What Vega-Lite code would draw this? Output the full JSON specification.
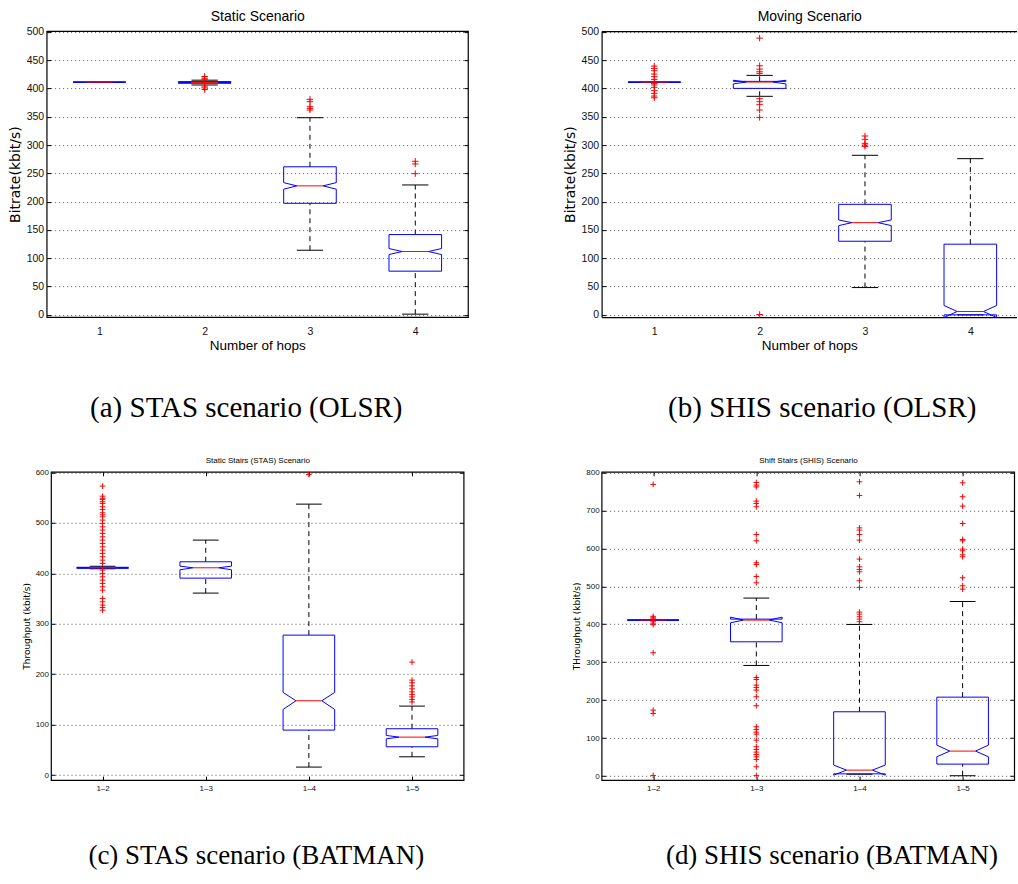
{
  "$schema": "https://vega.github.io/schema/vega-lite/v6.json",
  "background": "white",
  "autosize": {"type": "pad"},
  "padding": {"left": 7.3, "top": 8.1, "right": 0, "bottom": 0},
  "config": {
    "view": {"stroke": "#000", "strokeWidth": 1.2},
    "axis": {
      "domain": false, "grid": false, "tickColor": "#000", "tickSize": -4, "tickWidth": 1,
      "labelColor": "#111", "titleColor": "#000", "titleFontWeight": "normal",
      "gridColor": "#555", "gridDash": [1, 3], "gridWidth": 1,
      "labelFont": "Liberation Sans, Arial, sans-serif",
      "titleFont": "Liberation Sans, Arial, sans-serif",
      "domainColor": "#000", "domainWidth": 1.2
    },
    "title": {"font": "Liberation Serif, serif", "fontWeight": "normal", "color": "#000", "fontSize": 29}
  },
  "datasets": {
    "boxA": [
      {"hop": 1, "q1": 411, "nlo": 411, "med": 411, "nhi": 411, "q3": 411, "wlo": 411, "whi": 411},
      {"hop": 2, "q1": 409, "nlo": 410, "med": 410.5, "nhi": 411, "q3": 412, "wlo": 406, "whi": 414.5},
      {"hop": 3, "q1": 197, "nlo": 222, "med": 227.8, "nhi": 233.5, "q3": 261.5, "wlo": 114.1, "whi": 348.2},
      {"hop": 4, "q1": 77.1, "nlo": 106.5, "med": 111.8, "nhi": 117.1, "q3": 141.8, "wlo": 1.2, "whi": 229.4}
    ],
    "outA": [
      {"hop": 2, "v": 421}, {"hop": 2, "v": 418}, {"hop": 2, "v": 416}, {"hop": 2, "v": 404}, {"hop": 2, "v": 401}, {"hop": 2, "v": 398},
      {"hop": 3, "v": 380.6}, {"hop": 3, "v": 376.5}, {"hop": 3, "v": 367.6}, {"hop": 3, "v": 364.7}, {"hop": 3, "v": 361.8},
      {"hop": 4, "v": 271.2}, {"hop": 4, "v": 266.5}, {"hop": 4, "v": 249.4}
    ],
    "boxB": [
      {"hop": 1, "q1": 411, "nlo": 411, "med": 411, "nhi": 411, "q3": 411, "wlo": 411, "whi": 411},
      {"hop": 2, "q1": 400, "nlo": 408, "med": 411.2, "nhi": 414.4, "q3": 412.4, "wlo": 386, "whi": 423},
      {"hop": 3, "q1": 130, "nlo": 157.6, "med": 162.8, "nhi": 167.6, "q3": 195.2, "wlo": 48.2, "whi": 281.8},
      {"hop": 4, "q1": 0, "nlo": -4.7, "med": 5.9, "nhi": 16.5, "q3": 124.8, "wlo": 0, "whi": 275.9}
    ],
    "outB": [
      {"hop": 1, "v": 439.4}, {"hop": 1, "v": 435.3}, {"hop": 1, "v": 431.2}, {"hop": 1, "v": 425.3}, {"hop": 1, "v": 420.6},
      {"hop": 1, "v": 415.9}, {"hop": 1, "v": 408.8}, {"hop": 1, "v": 405.9}, {"hop": 1, "v": 401.8}, {"hop": 1, "v": 395.9},
      {"hop": 1, "v": 391.2}, {"hop": 1, "v": 386.5}, {"hop": 1, "v": 383.5},
      {"hop": 2, "v": 488.8}, {"hop": 2, "v": 440}, {"hop": 2, "v": 434}, {"hop": 2, "v": 429.4}, {"hop": 2, "v": 426.5},
      {"hop": 2, "v": 381.8}, {"hop": 2, "v": 376.5}, {"hop": 2, "v": 371.2}, {"hop": 2, "v": 361.8}, {"hop": 2, "v": 348.8}, {"hop": 2, "v": 0.6},
      {"hop": 3, "v": 315.9}, {"hop": 3, "v": 310}, {"hop": 3, "v": 302.9}, {"hop": 3, "v": 300}, {"hop": 3, "v": 297.5}
    ],
    "boxC": [
      {"pair": "1–2", "q1": 410, "nlo": 410.7, "med": 411, "nhi": 411.3, "q3": 412, "wlo": 409, "whi": 414},
      {"pair": "1–3", "q1": 390.5, "nlo": 407, "med": 411, "nhi": 414.3, "q3": 422.9, "wlo": 360.8, "whi": 465.9},
      {"pair": "1–4", "q1": 89.2, "nlo": 130.2, "med": 147.4, "nhi": 163.9, "q3": 277.5, "wlo": 15.9, "whi": 537.2},
      {"pair": "1–5", "q1": 56.2, "nlo": 71.9, "med": 75.3, "nhi": 78.6, "q3": 91.9, "wlo": 36.3, "whi": 136.8}
    ],
    "outC": [
      {"pair": "1–2", "v": 572.9}, {"pair": "1–2", "v": 553}, {"pair": "1–2", "v": 549}, {"pair": "1–2", "v": 546.5}, {"pair": "1–2", "v": 542},
      {"pair": "1–2", "v": 538.6}, {"pair": "1–2", "v": 532}, {"pair": "1–2", "v": 526.7}, {"pair": "1–2", "v": 520}, {"pair": "1–2", "v": 516},
      {"pair": "1–2", "v": 512}, {"pair": "1–2", "v": 505.5}, {"pair": "1–2", "v": 499}, {"pair": "1–2", "v": 492.2}, {"pair": "1–2", "v": 485.7},
      {"pair": "1–2", "v": 479.1}, {"pair": "1–2", "v": 472.4}, {"pair": "1–2", "v": 465.9}, {"pair": "1–2", "v": 459.3}, {"pair": "1–2", "v": 452.6},
      {"pair": "1–2", "v": 446}, {"pair": "1–2", "v": 439.5}, {"pair": "1–2", "v": 432.8}, {"pair": "1–2", "v": 426.2}, {"pair": "1–2", "v": 419.7},
      {"pair": "1–2", "v": 406.4}, {"pair": "1–2", "v": 399.8}, {"pair": "1–2", "v": 393.1}, {"pair": "1–2", "v": 386.6}, {"pair": "1–2", "v": 380},
      {"pair": "1–2", "v": 373.3}, {"pair": "1–2", "v": 366.7}, {"pair": "1–2", "v": 350.3}, {"pair": "1–2", "v": 343.6}, {"pair": "1–2", "v": 337},
      {"pair": "1–2", "v": 332.4}, {"pair": "1–2", "v": 327},
      {"pair": "1–4", "v": 596},
      {"pair": "1–5", "v": 224}, {"pair": "1–5", "v": 188.3}, {"pair": "1–5", "v": 183}, {"pair": "1–5", "v": 177}, {"pair": "1–5", "v": 171},
      {"pair": "1–5", "v": 165}, {"pair": "1–5", "v": 160}, {"pair": "1–5", "v": 155}, {"pair": "1–5", "v": 150}, {"pair": "1–5", "v": 145}
    ],
    "boxD": [
      {"pair": "1–2", "q1": 411, "nlo": 411, "med": 411, "nhi": 411, "q3": 411, "wlo": 411, "whi": 411},
      {"pair": "1–3", "q1": 353.8, "nlo": 404, "med": 411, "nhi": 418.9, "q3": 413.6, "wlo": 291.5, "whi": 469},
      {"pair": "1–4", "q1": 6, "nlo": 2.6, "med": 15.8, "nhi": 29, "q3": 169.5, "wlo": 5, "whi": 399.5},
      {"pair": "1–5", "q1": 31.6, "nlo": 50.9, "med": 65.9, "nhi": 81.7, "q3": 208, "wlo": 1, "whi": 460}
    ],
    "outD": [
      {"pair": "1–2", "v": 768.4}, {"pair": "1–2", "v": 421}, {"pair": "1–2", "v": 417}, {"pair": "1–2", "v": 414}, {"pair": "1–2", "v": 408},
      {"pair": "1–2", "v": 403}, {"pair": "1–2", "v": 399}, {"pair": "1–2", "v": 324.9}, {"pair": "1–2", "v": 173.9}, {"pair": "1–2", "v": 165}, {"pair": "1–2", "v": 1.8},
      {"pair": "1–3", "v": 773.6}, {"pair": "1–3", "v": 766.6}, {"pair": "1–3", "v": 762}, {"pair": "1–3", "v": 724.5}, {"pair": "1–3", "v": 718.3},
      {"pair": "1–3", "v": 709.5}, {"pair": "1–3", "v": 636.6}, {"pair": "1–3", "v": 620}, {"pair": "1–3", "v": 562}, {"pair": "1–3", "v": 557.6},
      {"pair": "1–3", "v": 526}, {"pair": "1–3", "v": 509.3}, {"pair": "1–3", "v": 259.9}, {"pair": "1–3", "v": 254.6}, {"pair": "1–3", "v": 239.7},
      {"pair": "1–3", "v": 233.6}, {"pair": "1–3", "v": 226.6}, {"pair": "1–3", "v": 209}, {"pair": "1–3", "v": 185.3}, {"pair": "1–3", "v": 130},
      {"pair": "1–3", "v": 123}, {"pair": "1–3", "v": 115.9}, {"pair": "1–3", "v": 110.6}, {"pair": "1–3", "v": 94.8}, {"pair": "1–3", "v": 77.3},
      {"pair": "1–3", "v": 70.2}, {"pair": "1–3", "v": 63.2}, {"pair": "1–3", "v": 57}, {"pair": "1–3", "v": 50.9}, {"pair": "1–3", "v": 43.9},
      {"pair": "1–3", "v": 24.6}, {"pair": "1–3", "v": 1.8},
      {"pair": "1–4", "v": 775.4}, {"pair": "1–4", "v": 739.4}, {"pair": "1–4", "v": 654}, {"pair": "1–4", "v": 648}, {"pair": "1–4", "v": 636.6},
      {"pair": "1–4", "v": 621.7}, {"pair": "1–4", "v": 571.7}, {"pair": "1–4", "v": 551.5}, {"pair": "1–4", "v": 544.4}, {"pair": "1–4", "v": 538.3},
      {"pair": "1–4", "v": 514.6}, {"pair": "1–4", "v": 497}, {"pair": "1–4", "v": 432}, {"pair": "1–4", "v": 426.8}, {"pair": "1–4", "v": 419.7},
      {"pair": "1–4", "v": 413.6}, {"pair": "1–4", "v": 406.6},
      {"pair": "1–5", "v": 772.7}, {"pair": "1–5", "v": 735.9}, {"pair": "1–5", "v": 711.3}, {"pair": "1–5", "v": 665.6}, {"pair": "1–5", "v": 623.5},
      {"pair": "1–5", "v": 620}, {"pair": "1–5", "v": 598}, {"pair": "1–5", "v": 593.6}, {"pair": "1–5", "v": 583}, {"pair": "1–5", "v": 577.8},
      {"pair": "1–5", "v": 522.5}, {"pair": "1–5", "v": 501.4}, {"pair": "1–5", "v": 492.6}
    ]
  },
  "concat": [
    {
      "width": 421.3, "height": 286,
      "title": {"text": "(a) STAS scenario (OLSR)", "orient": "bottom", "frame": "group", "anchor": "middle", "dx": -11, "offset": 42},
      "data": {"name": "boxA"},
      "encoding": {"x": {"field": "hop", "type": "quantitative", "scale": {"domain": [0.5, 4.5]}, "axis": null}},
      "layer": [
        {"mark": {"type": "rule", "stroke": "#000", "strokeDash": [5, 4]}, "encoding": {"y": {"field": "q3", "type": "quantitative", "scale": {"domain": [-4, 501.2]}, "axis": null}, "y2": {"field": "whi"}}},
        {"mark": {"type": "rule", "stroke": "#000", "strokeDash": [5, 4]}, "encoding": {"y": {"field": "wlo", "type": "quantitative", "scale": {"domain": [-4, 501.2]}, "axis": null}, "y2": {"field": "q1"}}},
        {"mark": {"type": "rule", "stroke": "#000", "xOffset": -13.15, "x2Offset": 13.15}, "encoding": {"x2": {"field": "hop"}, "y": {"field": "whi", "type": "quantitative", "scale": {"domain": [-4, 501.2]}, "axis": null}}},
        {"mark": {"type": "rule", "stroke": "#000", "xOffset": -13.15, "x2Offset": 13.15}, "encoding": {"x2": {"field": "hop"}, "y": {"field": "wlo", "type": "quantitative", "scale": {"domain": [-4, 501.2]}, "axis": null}}},
        {"mark": {"type": "rule", "stroke": "#00f", "xOffset": -26.3, "x2Offset": 26.3}, "encoding": {"x2": {"field": "hop"}, "y": {"field": "q3", "type": "quantitative", "scale": {"domain": [-4, 501.2]}, "axis": null}}},
        {"mark": {"type": "rule", "stroke": "#00f", "xOffset": -26.3, "x2Offset": 26.3}, "encoding": {"x2": {"field": "hop"}, "y": {"field": "q1", "type": "quantitative", "scale": {"domain": [-4, 501.2]}, "axis": null}}},
        {"mark": {"type": "rule", "stroke": "#00f", "xOffset": -26.3}, "encoding": {"y": {"field": "q1", "type": "quantitative", "scale": {"domain": [-4, 501.2]}, "axis": null}, "y2": {"field": "nlo"}}},
        {"mark": {"type": "rule", "stroke": "#00f", "xOffset": -26.3}, "encoding": {"y": {"field": "nhi", "type": "quantitative", "scale": {"domain": [-4, 501.2]}, "axis": null}, "y2": {"field": "q3"}}},
        {"mark": {"type": "rule", "stroke": "#00f", "xOffset": 26.3}, "encoding": {"y": {"field": "q1", "type": "quantitative", "scale": {"domain": [-4, 501.2]}, "axis": null}, "y2": {"field": "nlo"}}},
        {"mark": {"type": "rule", "stroke": "#00f", "xOffset": 26.3}, "encoding": {"y": {"field": "nhi", "type": "quantitative", "scale": {"domain": [-4, 501.2]}, "axis": null}, "y2": {"field": "q3"}}},
        {"mark": {"type": "rule", "stroke": "#00f", "xOffset": -26.3, "x2Offset": -13.15}, "encoding": {"x2": {"field": "hop"}, "y": {"field": "nlo", "type": "quantitative", "scale": {"domain": [-4, 501.2]}, "axis": null}, "y2": {"field": "med"}}},
        {"mark": {"type": "rule", "stroke": "#00f", "xOffset": -26.3, "x2Offset": -13.15}, "encoding": {"x2": {"field": "hop"}, "y": {"field": "nhi", "type": "quantitative", "scale": {"domain": [-4, 501.2]}, "axis": null}, "y2": {"field": "med"}}},
        {"mark": {"type": "rule", "stroke": "#00f", "xOffset": 26.3, "x2Offset": 13.15}, "encoding": {"x2": {"field": "hop"}, "y": {"field": "nlo", "type": "quantitative", "scale": {"domain": [-4, 501.2]}, "axis": null}, "y2": {"field": "med"}}},
        {"mark": {"type": "rule", "stroke": "#00f", "xOffset": 26.3, "x2Offset": 13.15}, "encoding": {"x2": {"field": "hop"}, "y": {"field": "nhi", "type": "quantitative", "scale": {"domain": [-4, 501.2]}, "axis": null}, "y2": {"field": "med"}}},
        {"mark": {"type": "rule", "stroke": "#f00", "xOffset": -13.15, "x2Offset": 13.15},
         "encoding": {
           "x": {"field": "hop", "type": "quantitative", "scale": {"domain": [0.5, 4.5]},
             "axis": {"orient": "top", "title": "Static Scenario", "values": [1, 2, 3, 4], "labels": false, "ticks": false, "titleFontSize": 14, "titlePadding": 8}},
           "x2": {"field": "hop"},
           "y": {"field": "med", "type": "quantitative", "scale": {"domain": [-4, 501.2]},
             "axis": {"orient": "right", "title": null, "values": [0, 50, 100, 150, 200, 250, 300, 350, 400, 450, 500], "labels": false}}}},
        {"data": {"name": "outA"},
         "mark": {"type": "point", "shape": "M-1,0L1,0M0,-1L0,1", "size": 42, "filled": false, "stroke": "#f00", "strokeWidth": 1, "opacity": 1},
         "encoding": {
           "x": {"field": "hop", "type": "quantitative", "scale": {"domain": [0.5, 4.5]},
             "axis": {"orient": "bottom", "title": "Number of hops", "values": [1, 2, 3, 4], "format": "d", "ticks": false, "labelFontSize": 10.5, "labelPadding": 9, "titleFontSize": 13.5, "titlePadding": 2}},
           "y": {"field": "v", "type": "quantitative", "scale": {"domain": [-4, 501.2]},
             "axis": {"orient": "left", "title": "Bitrate(kbit/s)", "values": [0, 50, 100, 150, 200, 250, 300, 350, 400, 450, 500], "grid": true, "labelFontSize": 10.5, "labelPadding": 7, "titleFont": "DejaVu Sans", "titleFontSize": 14, "titlePadding": 4}}}}
      ],
      "resolve": {"axis": {"x": "independent", "y": "independent"}}
    },
    {
      "width": 415.3, "height": 286,
      "view": {"stroke": null},
      "title": {"text": "(b) SHIS scenario (OLSR)", "orient": "bottom", "frame": "group", "anchor": "middle", "dx": 13, "offset": 42},
      "data": {"name": "boxB"},
      "encoding": {"x": {"field": "hop", "type": "quantitative", "scale": {"domain": [0.5, 4.442]}, "axis": null}},
      "layer": [
        {"mark": {"type": "rule", "stroke": "#000", "strokeDash": [5, 4]}, "encoding": {"y": {"field": "q3", "type": "quantitative", "scale": {"domain": [-4, 501.2]}, "axis": null}, "y2": {"field": "whi"}}},
        {"mark": {"type": "rule", "stroke": "#000", "strokeDash": [5, 4]}, "encoding": {"y": {"field": "wlo", "type": "quantitative", "scale": {"domain": [-4, 501.2]}, "axis": null}, "y2": {"field": "q1"}}},
        {"mark": {"type": "rule", "stroke": "#000", "xOffset": -13.15, "x2Offset": 13.15}, "encoding": {"x2": {"field": "hop"}, "y": {"field": "whi", "type": "quantitative", "scale": {"domain": [-4, 501.2]}, "axis": null}}},
        {"mark": {"type": "rule", "stroke": "#000", "xOffset": -13.15, "x2Offset": 13.15}, "encoding": {"x2": {"field": "hop"}, "y": {"field": "wlo", "type": "quantitative", "scale": {"domain": [-4, 501.2]}, "axis": null}}},
        {"mark": {"type": "rule", "stroke": "#00f", "xOffset": -26.3, "x2Offset": 26.3}, "encoding": {"x2": {"field": "hop"}, "y": {"field": "q3", "type": "quantitative", "scale": {"domain": [-4, 501.2]}, "axis": null}}},
        {"mark": {"type": "rule", "stroke": "#00f", "xOffset": -26.3, "x2Offset": 26.3}, "encoding": {"x2": {"field": "hop"}, "y": {"field": "q1", "type": "quantitative", "scale": {"domain": [-4, 501.2]}, "axis": null}}},
        {"mark": {"type": "rule", "stroke": "#00f", "xOffset": -26.3}, "encoding": {"y": {"field": "q1", "type": "quantitative", "scale": {"domain": [-4, 501.2]}, "axis": null}, "y2": {"field": "nlo"}}},
        {"mark": {"type": "rule", "stroke": "#00f", "xOffset": -26.3}, "encoding": {"y": {"field": "nhi", "type": "quantitative", "scale": {"domain": [-4, 501.2]}, "axis": null}, "y2": {"field": "q3"}}},
        {"mark": {"type": "rule", "stroke": "#00f", "xOffset": 26.3}, "encoding": {"y": {"field": "q1", "type": "quantitative", "scale": {"domain": [-4, 501.2]}, "axis": null}, "y2": {"field": "nlo"}}},
        {"mark": {"type": "rule", "stroke": "#00f", "xOffset": 26.3}, "encoding": {"y": {"field": "nhi", "type": "quantitative", "scale": {"domain": [-4, 501.2]}, "axis": null}, "y2": {"field": "q3"}}},
        {"mark": {"type": "rule", "stroke": "#00f", "xOffset": -26.3, "x2Offset": -13.15}, "encoding": {"x2": {"field": "hop"}, "y": {"field": "nlo", "type": "quantitative", "scale": {"domain": [-4, 501.2]}, "axis": null}, "y2": {"field": "med"}}},
        {"mark": {"type": "rule", "stroke": "#00f", "xOffset": -26.3, "x2Offset": -13.15}, "encoding": {"x2": {"field": "hop"}, "y": {"field": "nhi", "type": "quantitative", "scale": {"domain": [-4, 501.2]}, "axis": null}, "y2": {"field": "med"}}},
        {"mark": {"type": "rule", "stroke": "#00f", "xOffset": 26.3, "x2Offset": 13.15}, "encoding": {"x2": {"field": "hop"}, "y": {"field": "nlo", "type": "quantitative", "scale": {"domain": [-4, 501.2]}, "axis": null}, "y2": {"field": "med"}}},
        {"mark": {"type": "rule", "stroke": "#00f", "xOffset": 26.3, "x2Offset": 13.15}, "encoding": {"x2": {"field": "hop"}, "y": {"field": "nhi", "type": "quantitative", "scale": {"domain": [-4, 501.2]}, "axis": null}, "y2": {"field": "med"}}},
        {"mark": {"type": "rule", "stroke": "#f00", "xOffset": -13.15, "x2Offset": 13.15},
         "encoding": {
           "x": {"field": "hop", "type": "quantitative", "scale": {"domain": [0.5, 4.442]},
             "axis": {"orient": "top", "title": "Moving Scenario", "values": [1, 2, 3, 4], "labels": false, "ticks": false, "domain": true, "titleFontSize": 14, "titlePadding": 8}},
           "x2": {"field": "hop"},
           "y": {"field": "med", "type": "quantitative", "scale": {"domain": [-4, 501.2]}, "axis": null}}},
        {"data": {"name": "outB"},
         "mark": {"type": "point", "shape": "M-1,0L1,0M0,-1L0,1", "size": 42, "filled": false, "stroke": "#f00", "strokeWidth": 1, "opacity": 1},
         "encoding": {
           "x": {"field": "hop", "type": "quantitative", "scale": {"domain": [0.5, 4.442]},
             "axis": {"orient": "bottom", "title": "Number of hops", "values": [1, 2, 3, 4], "format": "d", "ticks": false, "domain": true, "labelFontSize": 10.5, "labelPadding": 9, "titleFontSize": 13.5, "titlePadding": 2}},
           "y": {"field": "v", "type": "quantitative", "scale": {"domain": [-4, 501.2]},
             "axis": {"orient": "left", "title": "Bitrate(kbit/s)", "values": [0, 50, 100, 150, 200, 250, 300, 350, 400, 450, 500], "grid": true, "domain": true, "labelFontSize": 10.5, "labelPadding": 7, "titleFont": "DejaVu Sans", "titleFontSize": 14, "titlePadding": 4}}}}
      ],
      "resolve": {"axis": {"x": "independent", "y": "independent"}}
    },
    {
      "width": 412.6, "height": 308.3,
      "title": {"text": "(c) STAS scenario (BATMAN)", "orient": "bottom", "frame": "group", "anchor": "middle", "dx": -1, "offset": 50, "fontSize": 27},
      "data": {"name": "boxC"},
      "encoding": {"x": {"field": "pair", "type": "nominal", "sort": null, "scale": {"type": "point", "padding": 0.5, "domain": ["1–2", "1–3", "1–4", "1–5"]}, "axis": null}},
      "layer": [
        {"mark": {"type": "rule", "stroke": "#000", "strokeDash": [5, 4]}, "encoding": {"y": {"field": "q3", "type": "quantitative", "scale": {"domain": [-9.9, 601.3]}, "axis": null}, "y2": {"field": "whi"}}},
        {"mark": {"type": "rule", "stroke": "#000", "strokeDash": [5, 4]}, "encoding": {"y": {"field": "wlo", "type": "quantitative", "scale": {"domain": [-9.9, 601.3]}, "axis": null}, "y2": {"field": "q1"}}},
        {"mark": {"type": "rule", "stroke": "#000", "xOffset": -12.9, "x2Offset": 12.9}, "encoding": {"x2": {"field": "pair"}, "y": {"field": "whi", "type": "quantitative", "scale": {"domain": [-9.9, 601.3]}, "axis": null}}},
        {"mark": {"type": "rule", "stroke": "#000", "xOffset": -12.9, "x2Offset": 12.9}, "encoding": {"x2": {"field": "pair"}, "y": {"field": "wlo", "type": "quantitative", "scale": {"domain": [-9.9, 601.3]}, "axis": null}}},
        {"mark": {"type": "rule", "stroke": "#00f", "xOffset": -25.8, "x2Offset": 25.8}, "encoding": {"x2": {"field": "pair"}, "y": {"field": "q3", "type": "quantitative", "scale": {"domain": [-9.9, 601.3]}, "axis": null}}},
        {"mark": {"type": "rule", "stroke": "#00f", "xOffset": -25.8, "x2Offset": 25.8}, "encoding": {"x2": {"field": "pair"}, "y": {"field": "q1", "type": "quantitative", "scale": {"domain": [-9.9, 601.3]}, "axis": null}}},
        {"mark": {"type": "rule", "stroke": "#00f", "xOffset": -25.8}, "encoding": {"y": {"field": "q1", "type": "quantitative", "scale": {"domain": [-9.9, 601.3]}, "axis": null}, "y2": {"field": "nlo"}}},
        {"mark": {"type": "rule", "stroke": "#00f", "xOffset": -25.8}, "encoding": {"y": {"field": "nhi", "type": "quantitative", "scale": {"domain": [-9.9, 601.3]}, "axis": null}, "y2": {"field": "q3"}}},
        {"mark": {"type": "rule", "stroke": "#00f", "xOffset": 25.8}, "encoding": {"y": {"field": "q1", "type": "quantitative", "scale": {"domain": [-9.9, 601.3]}, "axis": null}, "y2": {"field": "nlo"}}},
        {"mark": {"type": "rule", "stroke": "#00f", "xOffset": 25.8}, "encoding": {"y": {"field": "nhi", "type": "quantitative", "scale": {"domain": [-9.9, 601.3]}, "axis": null}, "y2": {"field": "q3"}}},
        {"mark": {"type": "rule", "stroke": "#00f", "xOffset": -25.8, "x2Offset": -12.9}, "encoding": {"x2": {"field": "pair"}, "y": {"field": "nlo", "type": "quantitative", "scale": {"domain": [-9.9, 601.3]}, "axis": null}, "y2": {"field": "med"}}},
        {"mark": {"type": "rule", "stroke": "#00f", "xOffset": -25.8, "x2Offset": -12.9}, "encoding": {"x2": {"field": "pair"}, "y": {"field": "nhi", "type": "quantitative", "scale": {"domain": [-9.9, 601.3]}, "axis": null}, "y2": {"field": "med"}}},
        {"mark": {"type": "rule", "stroke": "#00f", "xOffset": 25.8, "x2Offset": 12.9}, "encoding": {"x2": {"field": "pair"}, "y": {"field": "nlo", "type": "quantitative", "scale": {"domain": [-9.9, 601.3]}, "axis": null}, "y2": {"field": "med"}}},
        {"mark": {"type": "rule", "stroke": "#00f", "xOffset": 25.8, "x2Offset": 12.9}, "encoding": {"x2": {"field": "pair"}, "y": {"field": "nhi", "type": "quantitative", "scale": {"domain": [-9.9, 601.3]}, "axis": null}, "y2": {"field": "med"}}},
        {"mark": {"type": "rule", "stroke": "#f00", "xOffset": -12.9, "x2Offset": 12.9},
         "encoding": {
           "x": {"field": "pair", "type": "nominal", "sort": null, "scale": {"type": "point", "padding": 0.5, "domain": ["1–2", "1–3", "1–4", "1–5"]},
             "axis": {"orient": "top", "title": "Static Stairs (STAS) Scenario", "labels": false, "titleFontSize": 8, "titlePadding": 7}},
           "x2": {"field": "pair"},
           "y": {"field": "med", "type": "quantitative", "scale": {"domain": [-9.9, 601.3]},
             "axis": {"orient": "right", "title": null, "values": [0, 100, 200, 300, 400, 500, 600], "labels": false}}}},
        {"data": {"name": "outC"},
         "mark": {"type": "point", "shape": "M-1,0L1,0M0,-1L0,1", "size": 32, "filled": false, "stroke": "#f00", "strokeWidth": 1, "opacity": 1},
         "encoding": {
           "x": {"field": "pair", "type": "nominal", "sort": null, "scale": {"type": "point", "padding": 0.5, "domain": ["1–2", "1–3", "1–4", "1–5"]},
             "axis": {"orient": "bottom", "title": null, "labelAngle": 0, "labelFontSize": 8, "labelPadding": 8.5}},
           "y": {"field": "v", "type": "quantitative", "scale": {"domain": [-9.9, 601.3]},
             "axis": {"orient": "left", "title": "Throughput (kbit/s)", "values": [0, 100, 200, 300, 400, 500, 600], "grid": true, "labelFontSize": 8, "labelPadding": 6.5, "titleFont": "DejaVu Sans", "titleFontSize": 9, "titlePadding": 4}}}}
      ],
      "resolve": {"axis": {"x": "independent", "y": "independent"}}
    },
    {
      "width": 412.6, "height": 308.3,
      "title": {"text": "(d) SHIS scenario (BATMAN)", "orient": "bottom", "frame": "group", "anchor": "middle", "dx": 24, "offset": 50, "fontSize": 27},
      "data": {"name": "boxD"},
      "encoding": {"x": {"field": "pair", "type": "nominal", "sort": null, "scale": {"type": "point", "padding": 0.5, "domain": ["1–2", "1–3", "1–4", "1–5"]}, "axis": null}},
      "layer": [
        {"mark": {"type": "rule", "stroke": "#000", "strokeDash": [5, 4]}, "encoding": {"y": {"field": "q3", "type": "quantitative", "scale": {"domain": [-10.5, 801.7]}, "axis": null}, "y2": {"field": "whi"}}},
        {"mark": {"type": "rule", "stroke": "#000", "strokeDash": [5, 4]}, "encoding": {"y": {"field": "wlo", "type": "quantitative", "scale": {"domain": [-10.5, 801.7]}, "axis": null}, "y2": {"field": "q1"}}},
        {"mark": {"type": "rule", "stroke": "#000", "xOffset": -12.9, "x2Offset": 12.9}, "encoding": {"x2": {"field": "pair"}, "y": {"field": "whi", "type": "quantitative", "scale": {"domain": [-10.5, 801.7]}, "axis": null}}},
        {"mark": {"type": "rule", "stroke": "#000", "xOffset": -12.9, "x2Offset": 12.9}, "encoding": {"x2": {"field": "pair"}, "y": {"field": "wlo", "type": "quantitative", "scale": {"domain": [-10.5, 801.7]}, "axis": null}}},
        {"mark": {"type": "rule", "stroke": "#00f", "xOffset": -25.8, "x2Offset": 25.8}, "encoding": {"x2": {"field": "pair"}, "y": {"field": "q3", "type": "quantitative", "scale": {"domain": [-10.5, 801.7]}, "axis": null}}},
        {"mark": {"type": "rule", "stroke": "#00f", "xOffset": -25.8, "x2Offset": 25.8}, "encoding": {"x2": {"field": "pair"}, "y": {"field": "q1", "type": "quantitative", "scale": {"domain": [-10.5, 801.7]}, "axis": null}}},
        {"mark": {"type": "rule", "stroke": "#00f", "xOffset": -25.8}, "encoding": {"y": {"field": "q1", "type": "quantitative", "scale": {"domain": [-10.5, 801.7]}, "axis": null}, "y2": {"field": "nlo"}}},
        {"mark": {"type": "rule", "stroke": "#00f", "xOffset": -25.8}, "encoding": {"y": {"field": "nhi", "type": "quantitative", "scale": {"domain": [-10.5, 801.7]}, "axis": null}, "y2": {"field": "q3"}}},
        {"mark": {"type": "rule", "stroke": "#00f", "xOffset": 25.8}, "encoding": {"y": {"field": "q1", "type": "quantitative", "scale": {"domain": [-10.5, 801.7]}, "axis": null}, "y2": {"field": "nlo"}}},
        {"mark": {"type": "rule", "stroke": "#00f", "xOffset": 25.8}, "encoding": {"y": {"field": "nhi", "type": "quantitative", "scale": {"domain": [-10.5, 801.7]}, "axis": null}, "y2": {"field": "q3"}}},
        {"mark": {"type": "rule", "stroke": "#00f", "xOffset": -25.8, "x2Offset": -12.9}, "encoding": {"x2": {"field": "pair"}, "y": {"field": "nlo", "type": "quantitative", "scale": {"domain": [-10.5, 801.7]}, "axis": null}, "y2": {"field": "med"}}},
        {"mark": {"type": "rule", "stroke": "#00f", "xOffset": -25.8, "x2Offset": -12.9}, "encoding": {"x2": {"field": "pair"}, "y": {"field": "nhi", "type": "quantitative", "scale": {"domain": [-10.5, 801.7]}, "axis": null}, "y2": {"field": "med"}}},
        {"mark": {"type": "rule", "stroke": "#00f", "xOffset": 25.8, "x2Offset": 12.9}, "encoding": {"x2": {"field": "pair"}, "y": {"field": "nlo", "type": "quantitative", "scale": {"domain": [-10.5, 801.7]}, "axis": null}, "y2": {"field": "med"}}},
        {"mark": {"type": "rule", "stroke": "#00f", "xOffset": 25.8, "x2Offset": 12.9}, "encoding": {"x2": {"field": "pair"}, "y": {"field": "nhi", "type": "quantitative", "scale": {"domain": [-10.5, 801.7]}, "axis": null}, "y2": {"field": "med"}}},
        {"mark": {"type": "rule", "stroke": "#f00", "xOffset": -12.9, "x2Offset": 12.9},
         "encoding": {
           "x": {"field": "pair", "type": "nominal", "sort": null, "scale": {"type": "point", "padding": 0.5, "domain": ["1–2", "1–3", "1–4", "1–5"]},
             "axis": {"orient": "top", "title": "Shift Stairs (SHIS) Scenario", "labels": false, "titleFontSize": 8, "titlePadding": 7}},
           "x2": {"field": "pair"},
           "y": {"field": "med", "type": "quantitative", "scale": {"domain": [-10.5, 801.7]},
             "axis": {"orient": "right", "title": null, "values": [0, 100, 200, 300, 400, 500, 600, 700, 800], "labels": false}}}},
        {"data": {"name": "outD"},
         "mark": {"type": "point", "shape": "M-1,0L1,0M0,-1L0,1", "size": 32, "filled": false, "stroke": "#f00", "strokeWidth": 1, "opacity": 1},
         "encoding": {
           "x": {"field": "pair", "type": "nominal", "sort": null, "scale": {"type": "point", "padding": 0.5, "domain": ["1–2", "1–3", "1–4", "1–5"]},
             "axis": {"orient": "bottom", "title": null, "labelAngle": 0, "labelFontSize": 8, "labelPadding": 8.5}},
           "y": {"field": "v", "type": "quantitative", "scale": {"domain": [-10.5, 801.7]},
             "axis": {"orient": "left", "title": "THroughput (kbit/s)", "values": [0, 100, 200, 300, 400, 500, 600, 700, 800], "grid": true, "labelFontSize": 8, "labelPadding": 6.5, "titleFont": "DejaVu Sans", "titleFontSize": 9, "titlePadding": 4}}}}
      ],
      "resolve": {"axis": {"x": "independent", "y": "independent"}}
    }
  ],
  "columns": 2,
  "spacing": {"row": 154.7, "column": 133.3},
  "bounds": "flush",
  "align": "each",
  "center": true
}
